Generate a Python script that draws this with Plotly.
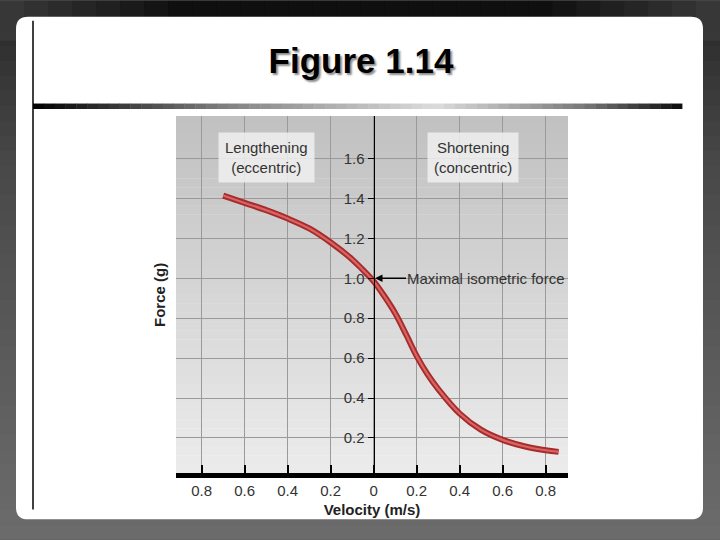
import plotly.graph_objects as go

# ---- data ----
velocity = [-0.70, -0.60, -0.50, -0.40, -0.30, -0.20, -0.10, -0.05, 0.00, 0.05, 0.10,
            0.15, 0.20, 0.25, 0.30, 0.40, 0.50, 0.60, 0.70, 0.80, 0.86]
force = [1.415, 1.378, 1.342, 1.300, 1.250, 1.180, 1.095, 1.042, 0.985, 0.910, 0.825,
         0.720, 0.610, 0.520, 0.445, 0.322, 0.240, 0.190, 0.158, 0.138, 0.130]
x_tickvals = [-0.8, -0.6, -0.4, -0.2, 0.0, 0.2, 0.4, 0.6, 0.8]
x_ticktext = ["0.8", "0.6", "0.4", "0.2", "0", "0.2", "0.4", "0.6", "0.8"]
y_tickvals = [0.2, 0.4, 0.6, 0.8, 1.0, 1.2, 1.4, 1.6]
y_ticktext = ["0.2", "0.4", "0.6", "0.8", "1.0", "1.2", "1.4", "1.6"]
title_text = "Figure 1.14"
x_title = "Velocity (m/s)"
y_title = "Force (g)"
label_left = "Lengthening<br>(eccentric)"
label_right = "Shortening<br>(concentric)"
label_iso = "Maximal isometric force"

# ---- geometry helpers (pixel -> paper) ----
W, H = 720, 540
L, R, T, B = 176, 568, 115.5, 473.5


def px(x):
    return (x - L) / (R - L)


def py(y):
    return (B - y) / (B - T)


def lerp_color(stops, t):
    for i in range(len(stops) - 1):
        t0, c0 = stops[i]
        t1, c1 = stops[i + 1]
        if t0 <= t <= t1:
            f = 0 if t1 == t0 else (t - t0) / (t1 - t0)
            c = [int(round(c0[k] + (c1[k] - c0[k]) * f)) for k in range(3)]
            return "rgb(%d,%d,%d)" % tuple(c)
    c = stops[-1][1]
    return "rgb(%d,%d,%d)" % tuple(c)


shapes = []

# slide background (vertical gradient)
bg_stops = [(0, (40, 40, 40)), (0.3, (72, 72, 72)), (1, (108, 108, 108))]
N = 36
for i in range(N):
    y0 = i * H / N
    y1 = (i + 1) * H / N + 0.5
    shapes.append(dict(type="rect", xref="paper", yref="paper", layer="below",
                       x0=px(0), x1=px(W), y0=py(y1), y1=py(y0),
                       fillcolor=lerp_color(bg_stops, (i + 0.5) / N), line_width=0))
# darker top strip (black in the middle)
top_stops = [(0, (60, 60, 60)), (0.25, (10, 10, 10)), (0.75, (10, 10, 10)), (1, (60, 60, 60))]
M = 30
for i in range(M):
    x0 = i * W / M
    x1 = (i + 1) * W / M + 0.5
    shapes.append(dict(type="rect", xref="paper", yref="paper", layer="below",
                       x0=px(x0), x1=px(x1), y0=py(40), y1=py(0),
                       fillcolor=lerp_color(top_stops, (i + 0.5) / M), line_width=0,
                       opacity=0.85))

# white rounded slide
xl, xr, yt, yb, rr = 16, 703, 16, 520, 12
path = ("M {a},{b} L {c},{b} Q {d},{b} {d},{e} L {d},{f} Q {d},{g} {c},{g} "
        "L {a},{g} Q {h},{g} {h},{f} L {h},{e} Q {h},{b} {a},{b} Z").format(
    a=px(xl + rr), b=py(yt), c=px(xr - rr), d=px(xr), e=py(yt + rr),
    f=py(yb - rr), g=py(yb), h=px(xl))
shapes.append(dict(type="path", xref="paper", yref="paper", layer="below",
                   path=path, fillcolor="white", line_width=0))

# vertical rule at left
shapes.append(dict(type="line", xref="paper", yref="paper", layer="below",
                   x0=px(33), x1=px(33), y0=py(510), y1=py(20),
                   line=dict(color="black", width=1.5)))

# gradient horizontal rule under the title
rule_stops = [(0, (0, 0, 0)), (0.3, (130, 130, 130)), (0.62, (220, 220, 220)),
              (0.85, (120, 120, 120)), (1, (10, 10, 10))]
K = 60
for i in range(K):
    x0 = 33 + i * (682 - 33) / K
    x1 = 33 + (i + 1) * (682 - 33) / K + 0.4
    shapes.append(dict(type="rect", xref="paper", yref="paper", layer="below",
                       x0=px(x0), x1=px(x1), y0=py(108.5), y1=py(103),
                       fillcolor=lerp_color(rule_stops, (i + 0.5) / K), line_width=0))

# plot-area gray gradient
pa_stops = [(0, (192, 192, 192)), (1, (236, 236, 236))]
P = 40
for i in range(P):
    y0 = T + i * (B - T) / P
    y1 = T + (i + 1) * (B - T) / P + 0.4
    shapes.append(dict(type="rect", xref="paper", yref="paper", layer="below",
                       x0=0, x1=1, y0=py(min(y1, B)), y1=py(y0),
                       fillcolor=lerp_color(pa_stops, (i + 0.5) / P), line_width=0))

fig = go.Figure()
fig.add_trace(go.Scatter(x=velocity, y=force, mode="lines",
                         line=dict(color="#a62c2c", width=6, shape="spline", smoothing=1.0),
                         hoverinfo="skip", showlegend=False))
fig.add_trace(go.Scatter(x=velocity, y=force, mode="lines",
                         line=dict(color="#da6464", width=2.2, shape="spline", smoothing=1.0),
                         showlegend=False))

font_family = "Liberation Sans, Arial, sans-serif"

annotations = [
    dict(x=-0.498, y=1.608, xref="x", yref="y", text=label_left, showarrow=False,
         font=dict(family=font_family, size=15, color="#333"),
         bgcolor="rgba(240,240,240,0.85)", borderpad=6),
    dict(x=0.462, y=1.608, xref="x", yref="y", text=label_right, showarrow=False,
         font=dict(family=font_family, size=15, color="#333"),
         bgcolor="rgba(240,240,240,0.85)", borderpad=6),
    dict(x=0.006, y=1.0, xref="x", yref="y", text=label_iso, showarrow=True,
         xanchor="left", ax=31, ay=0, arrowhead=2, arrowsize=1, arrowwidth=1.5,
         arrowcolor="black", standoff=0, borderpad=0,
         font=dict(family=font_family, size=15, color="#333")),
    dict(x=px(160), y=py(295), xref="paper", yref="paper", text="<b>" + y_title + "</b>",
         showarrow=False, textangle=-90, xanchor="center", yanchor="middle",
         font=dict(family=font_family, size=15, color="#222")),
]

fig.update_layout(
    width=W, height=H,
    margin=dict(l=L, r=W - R, t=T, b=H - B, pad=0),
    paper_bgcolor="#555555",
    plot_bgcolor="rgba(0,0,0,0)",
    title=dict(text="<b>" + title_text + "</b>", x=361 / W, xanchor="center",
               y=1 - 61 / H, yanchor="middle", yref="container",
               font=dict(family=font_family, size=35, color="black",
                         shadow="2px 2px 2px #8a8a8a")),
    shapes=shapes,
    annotations=annotations,
    showlegend=False,
    xaxis=dict(range=[-0.9195, 0.9037], tickvals=x_tickvals, ticktext=x_ticktext,
               showgrid=True, gridcolor="#9a9a9a", gridwidth=1, zeroline=False,
               showline=True, linecolor="black", linewidth=5,
               ticks="inside", ticklen=8, tickwidth=1.5, tickcolor="black",
               tickfont=dict(family=font_family, size=15, color="#333"),
               title=dict(text="<b>" + x_title + "</b>", standoff=8,
                          font=dict(family=font_family, size=15, color="#222"))),
    yaxis=dict(range=[0.024, 1.814], tickvals=y_tickvals, ticktext=y_ticktext,
               anchor="free", position=px(373.7), side="left",
               showgrid=True, gridcolor="#9a9a9a", gridwidth=1, zeroline=False,
               showline=True, linecolor="black", linewidth=1.3,
               ticks="outside", ticklen=6, tickwidth=1.3, tickcolor="black",
               tickfont=dict(family=font_family, size=15, color="#333")),
)

fig.write_html("out.html", config={"displayModeBar": False},
               post_script="document.body.style.margin='0';document.body.style.overflow='hidden';")
